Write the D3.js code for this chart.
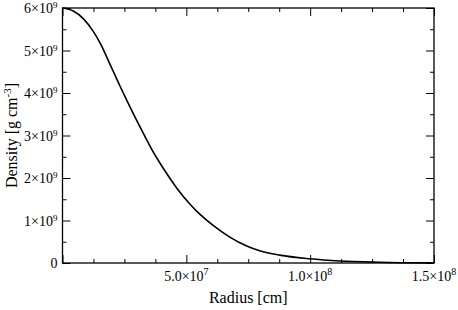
<!DOCTYPE html>
<html>
<head>
<meta charset="utf-8">
<script src="https://cdn.jsdelivr.net/npm/d3@7"></script>
<style>
  body { margin: 0; background: #fff; }
  svg { display: block; }
</style>
</head>
<body>
<div id="chart"></div>
<script>
const margin = {top: 8, right: 24, bottom: 47, left: 62.5},
      W = 458, H = 310,
      width = W - margin.left - margin.right,
      height = H - margin.top - margin.bottom,
      serif = "'Liberation Serif', 'Times New Roman', 'DejaVu Serif', serif";

// radius [cm] and density [g cm^-3]
const radius = [0, 0.435e7, 0.839e7, 1.242e7, 1.552e7, 1.915e7, 2.315e7, 2.601e7, 2.923e7,
  3.327e7, 3.609e7, 3.851e7, 4.214e7, 4.617e7, 5.141e7, 5.544e7, 6.069e7, 6.754e7,
  7.44e7, 7.964e7, 8.77e7, 9.98e7, 11.19e7, 12.8e7, 15e7];
const density = [6.0e9, 5.93e9, 5.75e9, 5.45e9, 5.14e9, 4.68e9, 4.17e9, 3.82e9, 3.44e9,
  2.98e9, 2.67e9, 2.43e9, 2.10e9, 1.76e9, 1.39e9, 1.15e9, 0.89e9, 0.61e9,
  0.40e9, 0.287e9, 0.185e9, 0.10e9, 0.048e9, 0.018e9, 0.002e9];

const xMajor = [0, 5e7, 1e8, 1.5e8];
const xMinor = [1.25e7, 2.5e7, 3.75e7, 6.25e7, 7.5e7, 8.75e7, 1.125e8, 1.25e8, 1.375e8];
const xLabels = [null, ["5.0\u00d710", "7"], ["1.0\u00d710", "8"], ["1.5\u00d710", "8"]];

const yMajor = [0, 1e9, 2e9, 3e9, 4e9, 5e9, 6e9];
const yMinor = [0.5e9, 1.5e9, 2.5e9, 3.5e9, 4.5e9, 5.5e9];
const yLabels = [["0", ""], ["1\u00d710", "9"], ["2\u00d710", "9"], ["3\u00d710", "9"],
  ["4\u00d710", "9"], ["5\u00d710", "9"], ["6\u00d710", "9"]];

const svg = d3.select("#chart").append("svg")
  .attr("width", W).attr("height", H)
  .attr("font-family", serif);
const g = svg.append("g")
  .attr("transform", `translate(${margin.left},${margin.top})`);

const x = d3.scaleLinear().domain([0, 1.5e8]).range([0, width]);
const y = d3.scaleLinear().domain([0, 6e9]).range([height, 0]);

function drawAxis(axisFn, scale, vals, size, transform) {
  const a = g.append("g")
    .attr("transform", transform || null)
    .call(axisFn(scale).tickValues(vals).tickSizeInner(size).tickSizeOuter(0).tickFormat(""));
  a.select(".domain").remove();
  a.selectAll("line").attr("stroke", "#000").attr("stroke-width", 1);
}

drawAxis(d3.axisBottom, x, xMajor, -8, `translate(0,${height})`);
drawAxis(d3.axisBottom, x, xMinor, -4, `translate(0,${height})`);
drawAxis(d3.axisTop, x, xMajor, -8);
drawAxis(d3.axisTop, x, xMinor, -4);
drawAxis(d3.axisLeft, y, yMajor, -8);
drawAxis(d3.axisLeft, y, yMinor, -4);
drawAxis(d3.axisRight, y, yMajor, -8, `translate(${width},0)`);
drawAxis(d3.axisRight, y, yMinor, -4, `translate(${width},0)`);

g.append("rect")
  .attr("width", width).attr("height", height)
  .attr("fill", "none").attr("stroke", "#000").attr("stroke-width", 1.3);

const pts = radius.map((r, i) => [r, density[i]]);
g.append("path")
  .datum(pts)
  .attr("fill", "none")
  .attr("stroke", "#000")
  .attr("stroke-width", 1.6)
  .attr("d", d3.line().x(d => x(d[0])).y(d => y(d[1])).curve(d3.curveMonotoneX));

// tick labels with superscript exponents
xMajor.forEach((v, i) => {
  if (!xLabels[i]) return;
  const t = g.append("text")
    .attr("x", x(v)).attr("y", height + 18)
    .attr("text-anchor", "middle")
    .attr("font-family", serif)
    .style("font-size", "14px");
  t.append("tspan").text(xLabels[i][0]);
  t.append("tspan").attr("dy", -6).style("font-size", "10px").text(xLabels[i][1]);
});

yMajor.forEach((v, i) => {
  const t = g.append("text")
    .attr("x", -5).attr("y", y(v) + 5)
    .attr("text-anchor", "end")
    .attr("font-family", serif)
    .style("font-size", "14px");
  t.append("tspan").text(yLabels[i][0]);
  if (yLabels[i][1]) t.append("tspan").attr("dy", -5).style("font-size", "9px").text(yLabels[i][1]);
});

g.append("text")
  .attr("x", width / 2).attr("y", height + 40)
  .attr("text-anchor", "middle")
  .attr("font-family", serif)
  .style("font-size", "16px")
  .text("Radius [cm]");

const yt = g.append("text")
  .attr("text-anchor", "middle")
  .attr("font-family", serif)
  .attr("transform", `translate(${-margin.left + 17},${height / 2})rotate(-90)`)
  .style("font-size", "16px");
yt.append("tspan").text("Density [g cm");
yt.append("tspan").attr("dy", -6).style("font-size", "11px").text("-3");
yt.append("tspan").attr("dy", 6).text("]");
</script>
</body>
</html>
